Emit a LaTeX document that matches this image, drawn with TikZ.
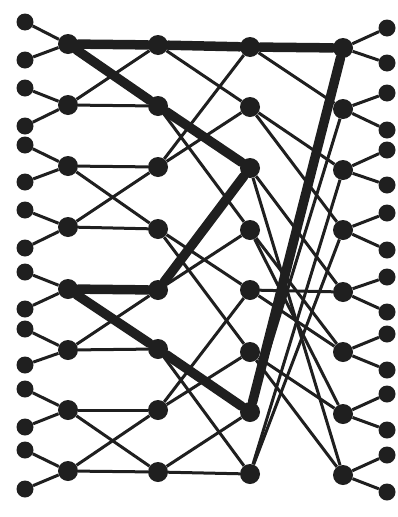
\documentclass[tikz,border=0pt]{standalone}
\usetikzlibrary{positioning}
\tikzset{
  sw/.style={circle, fill=black!88, inner sep=0pt, minimum size=20pt},
  port/.style={circle, fill=black!88, inner sep=0pt, minimum size=17pt},
  wire/.style={line width=3pt, black!88},
  hot/.style={line width=9.5pt, black!88, line cap=round, line join=round}
}
\begin{document}
\begin{tikzpicture}[x=1pt, y=-1pt]
  \useasboundingbox (0,0) rectangle (397,517);

  % switch columns
  \foreach \y [count=\i from 0] in {44,105,166,227,289,350,410,471}
    \node[sw] (a\i) at (68,\y) {};
  \foreach \y [count=\i from 0] in {45,106,167,229,290,349,410,472}
    \node[sw] (b\i) at (158,\y) {};
  \foreach \y [count=\i from 0] in {47,107,168,230,290,352,412,474}
    \node[sw] (c\i) at (250,\y) {};
  \foreach \y [count=\i from 0] in {48,109,170,230,292,352,414,475}
    \node[sw] (d\i) at (343,\y) {};

  % input and output ports
  \foreach \y [count=\i from 0] in {22,60,88,126,145,182,210,248,272,309,329,365,389,427,450,489}
    \node[port] (in\i) at (25,\y) {};
  \foreach \y [count=\i from 0] in {28,63,93,130,150,185,213,250,277,312,334,370,394,430,455,492}
    \node[port] (out\i) at (387,\y) {};

  % ports to switches
  \foreach \i in {0,...,7} {
    \pgfmathtruncatemacro{\p}{2*\i}
    \pgfmathtruncatemacro{\q}{2*\i+1}
    \draw[wire] (in\p) -- (a\i);
    \draw[wire] (in\q) -- (a\i);
    \draw[wire] (out\p) -- (d\i);
    \draw[wire] (out\q) -- (d\i);
  }

  % first stage
  \foreach \u/\v in {0/0,0/1,1/0,1/1,2/2,2/3,3/2,3/3,4/4,4/5,5/4,5/5,6/6,6/7,7/6,7/7}
    \draw[wire] (a\u) -- (b\v);
  % second stage
  \foreach \u/\v in {0/0,0/1,2/0,2/1,1/2,1/3,4/2,4/3,3/4,3/5,6/4,6/5,5/6,5/7,7/6,7/7}
    \draw[wire] (b\u) -- (c\v);
  % third stage
  \foreach \u/\v in {0/0,0/1,6/0,6/1,1/2,1/3,7/2,7/3,2/4,2/7,3/5,3/6,4/4,4/5,5/6,5/7}
    \draw[wire] (c\u) -- (d\v);

  % highlighted cycle
  \draw[hot] (a0) -- (b0) -- (c0) -- (d0) -- (c6) -- (b5) -- (a4)
    -- (b4) -- (c2) -- (b1) -- (a0);
\end{tikzpicture}
\end{document}
